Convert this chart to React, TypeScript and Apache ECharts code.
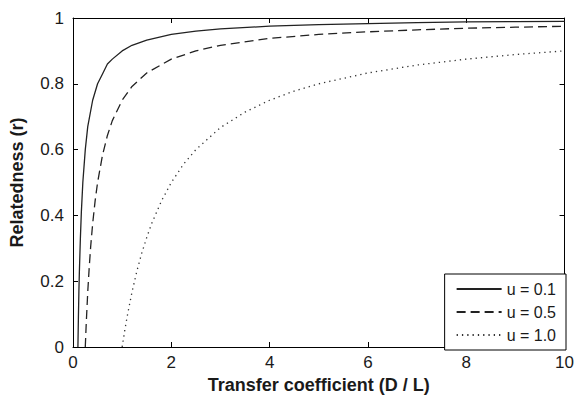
import React, { useEffect, useRef } from "react";
import * as echarts from "echarts";

// Values
const solidX = [0.1, 0.11, 0.12, 0.13, 0.15, 0.17, 0.2, 0.25, 0.3, 0.4, 0.5, 0.6, 0.7, 0.8, 1, 1.2, 1.5, 2, 2.5, 3, 4, 5, 6, 7, 8, 9, 10];
const solidY = [0, 0.09, 0.17, 0.23, 0.33, 0.41, 0.5, 0.6, 0.67, 0.75, 0.8, 0.83, 0.86, 0.875, 0.9, 0.917, 0.933, 0.95, 0.96, 0.967, 0.975, 0.98, 0.983, 0.986, 0.988, 0.989, 0.99];

const dashX = [0.25, 0.27, 0.3, 0.33, 0.36, 0.4, 0.45, 0.5, 0.6, 0.7, 0.8, 1, 1.2, 1.5, 2, 2.5, 3, 4, 5, 6, 7, 8, 9, 10];
const dashY = [0, 0.074, 0.167, 0.242, 0.306, 0.375, 0.444, 0.5, 0.583, 0.643, 0.688, 0.75, 0.792, 0.833, 0.875, 0.9, 0.917, 0.938, 0.95, 0.958, 0.964, 0.969, 0.972, 0.975];

const dotX = [1, 1.05, 1.1, 1.2, 1.3, 1.4, 1.5, 1.6, 1.8, 2, 2.25, 2.5, 3, 3.5, 4, 4.5, 5, 6, 7, 8, 9, 10];
const dotY = [0, 0.048, 0.091, 0.167, 0.231, 0.286, 0.333, 0.375, 0.444, 0.5, 0.556, 0.6, 0.667, 0.714, 0.75, 0.778, 0.8, 0.833, 0.857, 0.875, 0.889, 0.9];

const seriesNames = ["u = 0.1", "u = 0.5", "u = 1.0"];
const xTitle = "Transfer coefficient (D / L)";
const yTitle = "Relatedness (r)";

const FONT = "'Liberation Sans', Arial, Helvetica, sans-serif";
const INK = "#1a1a1a";

const zip = (xs: number[], ys: number[]) => xs.map((x, i) => [x, ys[i]]);

export default function App() {
  const ref = useRef<HTMLDivElement>(null);
  useEffect(() => {
    document.body.style.margin = "0";
    if (!ref.current) return;
    const chart = echarts.init(ref.current, undefined, { renderer: "svg" });
    const axisLine = { show: true, onZero: false, lineStyle: { color: "#000", width: 1 } };
    const tick = { show: true, inside: true, length: 5, lineStyle: { color: "#000", width: 1 } };
    const label = { color: INK, fontSize: 17, fontFamily: FONT };
    chart.setOption({
      animation: false,
      backgroundColor: "#fff",
      grid: { left: 73, right: 11, top: 18, bottom: 49, containLabel: false },
      xAxis: [
        {
          type: "value", min: 0, max: 10, interval: 2, position: "bottom",
          axisLine, axisTick: tick, splitLine: { show: false },
          axisLabel: { ...label, margin: 7 },
          name: xTitle, nameLocation: "middle", nameGap: 29,
          nameTextStyle: { fontWeight: "bold", fontSize: 18, color: INK, fontFamily: FONT },
        },
        {
          type: "value", min: 0, max: 10, interval: 2, position: "top",
          axisLine, axisTick: tick, splitLine: { show: false }, axisLabel: { show: false },
        },
      ],
      yAxis: [
        {
          type: "value", min: 0, max: 1, interval: 0.2, position: "left",
          axisLine, axisTick: tick, splitLine: { show: false },
          axisLabel: { ...label, margin: 9 },
          name: yTitle, nameLocation: "middle", nameGap: 47,
          nameTextStyle: { fontWeight: "bold", fontSize: 18, color: INK, fontFamily: FONT },
        },
        {
          type: "value", min: 0, max: 1, interval: 0.2, position: "right",
          axisLine, axisTick: tick, splitLine: { show: false }, axisLabel: { show: false },
        },
      ],
      legend: {
        data: seriesNames,
        orient: "vertical",
        right: 11,
        bottom: 49,
        backgroundColor: "#fff",
        borderColor: "#000",
        borderWidth: 1,
        borderRadius: 0,
        padding: [7, 10, 7, 11],
        itemWidth: 45,
        itemHeight: 14,
        itemGap: 7,
        itemStyle: { opacity: 0 },
        textStyle: { fontSize: 16, color: INK, fontFamily: FONT },
        z: 10,
      },
      series: [
        {
          name: seriesNames[0], type: "line", data: zip(solidX, solidY),
          symbol: "none", smooth: false,
          lineStyle: { color: "#222", width: 1.3, type: "solid" },
          itemStyle: { color: "#222" },
        },
        {
          name: seriesNames[1], type: "line", data: zip(dashX, dashY),
          symbol: "none", smooth: false,
          lineStyle: { color: "#222", width: 1.3, type: [9, 5] },
          itemStyle: { color: "#222" },
        },
        {
          name: seriesNames[2], type: "line", data: zip(dotX, dotY),
          symbol: "none", smooth: false,
          lineStyle: { color: "#333", width: 1.3, type: [1.3, 4] },
          itemStyle: { color: "#333" },
        },
      ],
    });
    return () => chart.dispose();
  }, []);
  return <div ref={ref} style={{ width: 577, height: 399 }} />;
}
